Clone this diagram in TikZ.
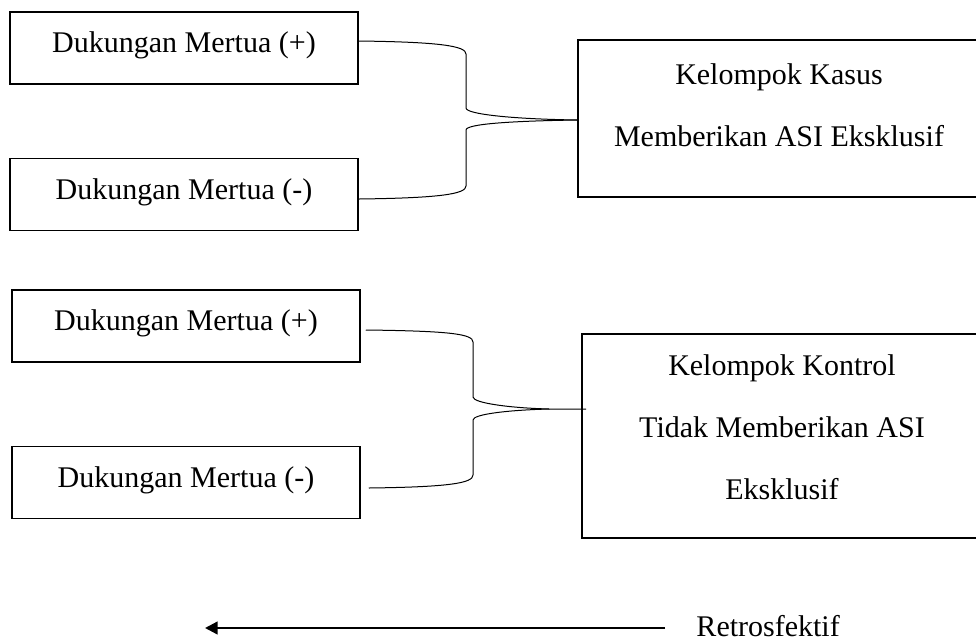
\documentclass[tikz,border=0pt]{standalone}
\usepackage{fontspec}
\setmainfont{Liberation Serif}
\usepackage{tikz}
\usetikzlibrary{arrows.meta}
\tikzstyle{sidebox} = [rectangle, minimum width=139.2pt, minimum height=28.8pt, inner sep=0pt, text centered, text height=8pt, text depth=4.4pt, draw=black, line width=0.6pt]
\tikzstyle{groupbox} = [rectangle, inner sep=0pt, align=center, draw=black, line width=0.6pt]
\tikzstyle{brace} = [line width=0.4pt]
\tikzstyle{arrow} = [line width=0.9pt, -{Triangle[length=5pt,width=5pt]}]

\begin{document}
\begin{tikzpicture}[x=0.4pt, y=-0.4pt, node distance=58.6pt, font=\fontsize{12}{24.8}\selectfont]
\useasboundingbox (0,0) rectangle (976,642);

\node (plus1) [sidebox] at (184,48) {Dukungan Mertua (+)};
\node (min1) [sidebox, below of=plus1] {Dukungan Mertua (-)};
\node (plus2) [sidebox] at (186,326) {Dukungan Mertua (+)};
\node (min2) [sidebox, below of=plus2, yshift=-4pt] {Dukungan Mertua (-)};

\node (kasus) [groupbox, minimum width=160.8pt, minimum height=62.8pt, text depth=10.8pt] at (779,118.5) {Kelompok Kasus\\Memberikan ASI Eksklusif};
\node (kontrol) [groupbox, minimum width=160pt, minimum height=81.6pt, text depth=7.2pt] at (782,436) {Kelompok Kontrol\\Tidak Memberikan ASI\\Eksklusif};

\node (retro) [anchor=base west, inner sep=0pt] at (696,636) {Retrosfektif};
\coordinate (now) at (665,628);
\coordinate (past) at (205,628);
\coordinate (meet) at ([xshift=-12.8pt,yshift=10.8pt]kontrol.west);

\draw [brace] ([yshift=2.8pt]plus1.east) .. controls (440,42) and (466,46) .. (466,54) -- (466,108) .. controls (466,114) and (510,119) .. ([yshift=-0.6pt]kasus.west);
\draw [brace] ([yshift=-1.8pt]min1.east) .. controls (440,198) and (466,194) .. (466,186) -- (466,130) .. controls (466,124) and (510,121) .. ([yshift=-0.6pt]kasus.west);
\draw [brace] ([xshift=2pt,yshift=-1.6pt]plus2.east) .. controls (450,331) and (473,334) .. (473,342) -- (473,397) .. controls (473,403) and (510,408) .. (meet) -- ([xshift=2pt,yshift=10.8pt]kontrol.west);
\draw [brace] ([xshift=3.2pt,yshift=-2.2pt]min2.east) .. controls (450,487) and (473,483) .. (473,475) -- (473,420) .. controls (473,414) and (510,410) .. (meet);

\draw [arrow] (now) -- (past);

\end{tikzpicture}
\end{document}
